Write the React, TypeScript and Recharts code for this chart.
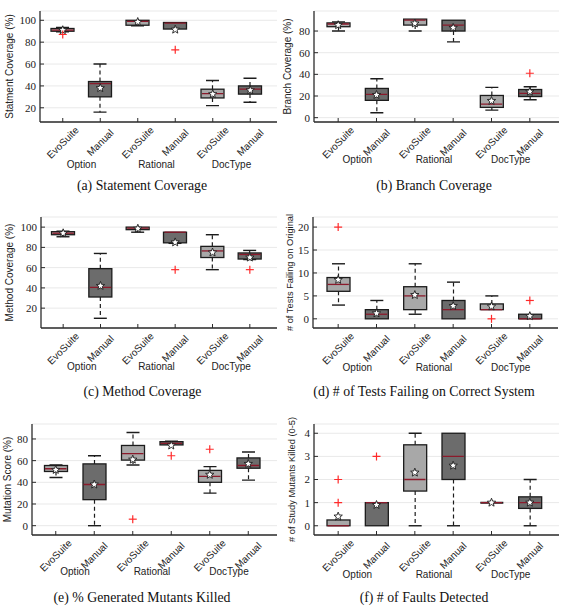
import React from "react";
import { ComposedChart, Bar, Scatter, XAxis, YAxis, CartesianGrid } from "recharts";

const GROUPS = ["Option", "Option", "Rational", "Rational", "DocType", "DocType"];
const METHODS = ["EvoSuite", "Manual", "EvoSuite", "Manual", "EvoSuite", "Manual"];

// (a) statement coverage
const STMT_MIN = [89.5, 16, 95, 92, 22, 25];
const STMT_Q1 = [90, 30, 95.5, 92, 29, 32.5];
const STMT_MED = [91, 42, 99, 97.5, 33, 37];
const STMT_Q3 = [92.5, 44, 100, 98, 37, 40];
const STMT_MAX = [93.5, 60, 100, 98, 45, 47];
const STMT_MEAN = [91, 38, 98.5, 91.5, 32.5, 36];
const STMT_OUT = [[87], [], [], [73], [], []];

// (b) branch coverage
const BR_MIN = [80, 4.5, 80, 70, 7, 16.5];
const BR_Q1 = [84, 16, 85.5, 80, 9.5, 19.5];
const BR_MED = [86.5, 21.5, 90, 85.5, 12.5, 22.5];
const BR_Q3 = [87.5, 27, 91, 90, 20.5, 26];
const BR_MAX = [88.5, 36, 91, 90, 28, 28.5];
const BR_MEAN = [85.5, 21, 87, 83, 15.5, 24];
const BR_OUT = [[], [], [], [], [], [41]];

// (c) method coverage
const MTH_MIN = [90.5, 10, 95, 84, 58, 68];
const MTH_Q1 = [92.5, 31, 97.5, 84.5, 70, 68.5];
const MTH_MED = [94, 40.5, 99, 95, 76.5, 73];
const MTH_Q3 = [95.5, 59, 100, 95, 81, 74.5];
const MTH_MAX = [96, 74, 100, 95, 92.5, 77];
const MTH_MEAN = [94, 42, 98.5, 85, 75, 70];
const MTH_OUT = [[], [], [], [58], [], [58]];

// (d) tests failing on correct system
const FAIL_MIN = [3, 0, 1, 0, 2, 0];
const FAIL_Q1 = [6, 0, 2, 0, 2, 0];
const FAIL_MED = [7.5, 1, 5, 2, 2, 0];
const FAIL_Q3 = [9, 2, 7, 4, 3.25, 1];
const FAIL_MAX = [12, 4, 12, 8, 5, 1];
const FAIL_MEAN = [8.5, 1.2, 5.2, 2.8, 2.7, 0.6];
const FAIL_OUT = [[20], [], [], [], [0], [4]];

// (e) generated mutants killed
const MUT_MIN = [44.5, 0, 56, 74.5, 30, 42];
const MUT_Q1 = [50, 24, 60.5, 74.5, 40, 53];
const MUT_MED = [52.5, 38, 66.5, 76, 45.5, 55.5];
const MUT_Q3 = [55.5, 57, 74, 77.5, 51, 62.5];
const MUT_MAX = [56, 64.5, 86, 78, 54.5, 68];
const MUT_MEAN = [51.5, 38, 61, 74, 47, 57];
const MUT_OUT = [[], [], [6], [64.5], [70.5], []];

// (f) faults detected
const FLT_MIN = [0, 0, 0, 0, 1, 0];
const FLT_Q1 = [0, 0, 1.5, 2, 1, 0.75];
const FLT_MED = [0, 1, 2, 3, 1, 1];
const FLT_Q3 = [0.25, 1, 3.5, 4, 1, 1.25];
const FLT_MAX = [0.25, 1, 4, 4, 1, 2];
const FLT_MEAN = [0.4, 0.9, 2.3, 2.6, 1, 1];
const FLT_OUT = [[2, 1], [3], [], [], [], []];

const SANS = "'Liberation Sans', Arial, Helvetica, sans-serif";
const SERIF = "'Liberation Serif', 'Times New Roman', serif";
const INK = "#1c1c1c";
const FRAME = "#2b2b2b";
const GRID = "#e9e9e9";
const EVO_FILL = "#a8a8a8";
const MAN_FILL = "#6c6c6c";
const MEDIAN = "#8b1a2b";
const OUTLIER = "#ff2a2a";
const BOX_W = 23;
const CAP = 6.5;

function buildRows(
  min: number[], q1: number[], med: number[], q3: number[], max: number[], mean: number[], out: number[][],
) {
  return METHODS.map((m, i) => ({
    key: `${GROUPS[i]} ${m}`,
    group: GROUPS[i],
    method: m,
    base: min[i],
    lowWhisker: q1[i] - min[i],
    box: q3[i] - q1[i],
    highWhisker: max[i] - q3[i],
    median: med[i],
    mean: mean[i],
    out1: out[i][0] ?? null,
    out2: out[i][1] ?? null,
  }));
}

// eslint-disable-next-line @typescript-eslint/no-explicit-any
function LowWhisker({ x, y, width, height }: any) {
  if (!(height > 0)) return <g />;
  const cx = x + width / 2;
  const yb = y + height;
  return (
    <g>
      <line x1={cx} x2={cx} y1={y} y2={yb} stroke={INK} strokeWidth={1.2} strokeDasharray="4 3" />
      <line x1={cx - CAP} x2={cx + CAP} y1={yb} y2={yb} stroke={INK} strokeWidth={1.4} />
    </g>
  );
}

// eslint-disable-next-line @typescript-eslint/no-explicit-any
function HighWhisker({ x, y, width, height }: any) {
  if (!(height > 0)) return <g />;
  const cx = x + width / 2;
  return (
    <g>
      <line x1={cx} x2={cx} y1={y + height} y2={y} stroke={INK} strokeWidth={1.2} strokeDasharray="4 3" />
      <line x1={cx - CAP} x2={cx + CAP} y1={y} y2={y} stroke={INK} strokeWidth={1.4} />
    </g>
  );
}

// eslint-disable-next-line @typescript-eslint/no-explicit-any
function BoxShape({ x, y, width, height, payload }: any) {
  const fill = payload.method === "EvoSuite" ? EVO_FILL : MAN_FILL;
  if (!(height > 0.8)) {
    return <line x1={x} x2={x + width} y1={y} y2={y} stroke={INK} strokeWidth={2} />;
  }
  return <rect x={x} y={y} width={width} height={height} fill={fill} stroke={INK} strokeWidth={1.3} />;
}

// eslint-disable-next-line @typescript-eslint/no-explicit-any
function MedianShape({ cx, cy }: any) {
  if (cx == null || cy == null || isNaN(cy)) return <g />;
  return <line x1={cx - BOX_W / 2 + 0.8} x2={cx + BOX_W / 2 - 0.8} y1={cy} y2={cy} stroke={MEDIAN} strokeWidth={1.3} />;
}

// eslint-disable-next-line @typescript-eslint/no-explicit-any
function MeanShape({ cx, cy }: any) {
  if (cx == null || cy == null || isNaN(cy)) return <g />;
  const pts: string[] = [];
  for (let k = 0; k < 10; k++) {
    const r = k % 2 === 0 ? 4.4 : 1.9;
    const a = -Math.PI / 2 + (k * Math.PI) / 5;
    pts.push(`${cx + r * Math.cos(a)},${cy + r * Math.sin(a)}`);
  }
  return <polygon points={pts.join(" ")} fill="#fff" stroke={INK} strokeWidth={0.9} />;
}

// eslint-disable-next-line @typescript-eslint/no-explicit-any
function OutlierShape({ cx, cy }: any) {
  if (cx == null || cy == null || isNaN(cy)) return <g />;
  return (
    <g stroke={OUTLIER} strokeWidth={1.2}>
      <line x1={cx - 4} x2={cx + 4} y1={cy} y2={cy} />
      <line x1={cx} x2={cx} y1={cy - 4} y2={cy + 4} />
    </g>
  );
}

// eslint-disable-next-line @typescript-eslint/no-explicit-any
function MethodTick({ x, y, payload }: any) {
  const name = String(payload.value).split(" ")[1];
  return (
    <text x={x} y={y} dy="0.35em" transform={`rotate(-45, ${x}, ${y})`} textAnchor="middle"
      fontSize={10} fontFamily={SANS} fill="#222">
      {name}
    </text>
  );
}

// eslint-disable-next-line @typescript-eslint/no-explicit-any
function GroupTick({ x, y, payload }: any) {
  return (
    <text x={x} y={y} textAnchor="middle" fontSize={10} fontFamily={SANS} fill="#222">
      {payload.value}
    </text>
  );
}

const EmptyTick = () => <g />;

interface Geo {
  left: number; top: number; width: number;
  plotL: number; plotR: number; plotT: number; plotB: number;
  padL: number; padR: number;
  labelX: number; labelSize: number; groupDy: number;
}

interface PanelProps {
  rows: ReturnType<typeof buildRows>;
  domain: [number, number];
  ticks: number[];
  yLabel: string;
  geo: Geo;
}

function BoxPanel({ rows, domain, ticks, yLabel, geo }: PanelProps) {
  const height = geo.plotB - geo.top + 52;
  const pad = { left: geo.padL, right: geo.padR };
  const frame = { stroke: FRAME, strokeWidth: 1.3 };
  return (
    <div style={{ position: "absolute", left: geo.left, top: geo.top }}>
      <ComposedChart
        width={geo.width}
        height={height}
        data={rows}
        barCategoryGap={0}
        margin={{ top: geo.plotT - geo.top, right: geo.width - (geo.plotR - geo.left), bottom: 0, left: 0 }}
      >
        <CartesianGrid vertical={false} stroke={GRID} />
        <XAxis dataKey="key" interval={0} padding={pad} height={34} tick={MethodTick}
          tickSize={-4} tickMargin={24.5} axisLine={frame} tickLine={{ stroke: FRAME }} />
        <XAxis xAxisId="grp" dataKey="group" allowDuplicatedCategory={false} interval={0} padding={pad}
          height={18} axisLine={false} tickLine={false} tickSize={0} tickMargin={geo.groupDy - 34} tick={GroupTick} />
        <XAxis xAxisId="top" orientation="top" dataKey="key" interval={0} padding={pad} height={0}
          tick={EmptyTick} tickSize={-4} axisLine={frame} tickLine={{ stroke: FRAME }} />
        <YAxis
          type="number"
          domain={domain}
          ticks={ticks}
          interval={0}
          allowDataOverflow
          width={geo.plotL - geo.left}
          tickSize={-4}
          tickMargin={8}
          axisLine={frame}
          tickLine={{ stroke: FRAME }}
          tick={{ fill: "#222", fontSize: 11, fontFamily: SERIF }}
          label={{
            value: yLabel, angle: -90, position: "insideLeft", offset: geo.labelX,
            style: { textAnchor: "middle", fontSize: geo.labelSize, fontFamily: SANS, fill: "#222" },
          }}
        />
        <YAxis yAxisId="right" orientation="right" type="number" domain={domain} ticks={ticks} interval={0}
          allowDataOverflow width={0} tick={EmptyTick} tickSize={-4} axisLine={frame} tickLine={{ stroke: FRAME }} />
        <Bar dataKey="base" stackId="s" barSize={BOX_W} fill="none" shape={EmptyTick} isAnimationActive={false} />
        <Bar dataKey="lowWhisker" stackId="s" barSize={BOX_W} shape={LowWhisker} isAnimationActive={false} />
        <Bar dataKey="box" stackId="s" barSize={BOX_W} shape={BoxShape} isAnimationActive={false} />
        <Bar dataKey="highWhisker" stackId="s" barSize={BOX_W} shape={HighWhisker} isAnimationActive={false} />
        <Scatter dataKey="median" shape={MedianShape} isAnimationActive={false} />
        <Scatter dataKey="mean" shape={MeanShape} isAnimationActive={false} />
        <Scatter dataKey="out1" shape={OutlierShape} isAnimationActive={false} />
        <Scatter dataKey="out2" shape={OutlierShape} isAnimationActive={false} />
      </ComposedChart>
    </div>
  );
}

const CAPTIONS = [
  "(a) Statement Coverage",
  "(b) Branch Coverage",
  "(c) Method Coverage",
  "(d) # of Tests Failing on Correct System",
  "(e) % Generated Mutants Killed",
  "(f) # of Faults Detected",
];
const CAPTION_POS = [[142, 189.5], [434, 189.5], [142.5, 395.5], [424, 395.5], [142, 602], [424, 602]];

export default function App() {
  return (
    <div style={{ position: "absolute", left: 0, top: 0, width: 565, height: 610, background: "#fff" }}>
      <BoxPanel
        rows={buildRows(STMT_MIN, STMT_Q1, STMT_MED, STMT_Q3, STMT_MAX, STMT_MEAN, STMT_OUT)}
        domain={[7, 108.5]} ticks={[20, 40, 60, 80, 100]} yLabel="Statment Coverage (%)"
        geo={{ left: 0, top: 0, width: 282, plotL: 40, plotR: 277, plotT: 11, plotB: 122, padL: 4, padR: 8, labelX: 9.5, labelSize: 10, groupDy: 46 }}
      />
      <BoxPanel
        rows={buildRows(BR_MIN, BR_Q1, BR_MED, BR_Q3, BR_MAX, BR_MEAN, BR_OUT)}
        domain={[-4, 98.5]} ticks={[0, 20, 40, 60, 80]} yLabel="Branch Coverage (%)"
        geo={{ left: 280, top: 0, width: 285, plotL: 314, plotR: 559, plotT: 11, plotB: 122, padL: 5, padR: 10, labelX: 7, labelSize: 10, groupDy: 41 }}
      />
      <BoxPanel
        rows={buildRows(MTH_MIN, MTH_Q1, MTH_MED, MTH_Q3, MTH_MAX, MTH_MEAN, MTH_OUT)}
        domain={[0.4, 110]} ticks={[20, 40, 60, 80, 100]} yLabel="Method Coverage (%)"
        geo={{ left: 0, top: 200, width: 282, plotL: 41, plotR: 277, plotT: 217, plotB: 328, padL: 3.5, padR: 8.5, labelX: 9.5, labelSize: 10, groupDy: 42 }}
      />
      <BoxPanel
        rows={buildRows(FAIL_MIN, FAIL_Q1, FAIL_MED, FAIL_Q3, FAIL_MAX, FAIL_MEAN, FAIL_OUT)}
        domain={[-2, 22.2]} ticks={[0, 5, 10, 15, 20]} yLabel="# of Tests Failing on Original"
        geo={{ left: 280, top: 200, width: 285, plotL: 313, plotR: 558, plotT: 217, plotB: 328, padL: 6, padR: 9, labelX: 9.5, labelSize: 9.3, groupDy: 43 }}
      />
      <BoxPanel
        rows={buildRows(MUT_MIN, MUT_Q1, MUT_MED, MUT_Q3, MUT_MAX, MUT_MEAN, MUT_OUT)}
        domain={[-8.6, 93.8]} ticks={[0, 20, 40, 60, 80]} yLabel="Mutation Score (%)"
        geo={{ left: 0, top: 405, width: 282, plotL: 32, plotR: 277, plotT: 424, plotB: 535, padL: 4.5, padR: 9.5, labelX: 7.5, labelSize: 10, groupDy: 40 }}
      />
      <BoxPanel
        rows={buildRows(FLT_MIN, FLT_Q1, FLT_MED, FLT_Q3, FLT_MAX, FLT_MEAN, FLT_OUT)}
        domain={[-0.4, 4.4]} ticks={[0, 1, 2, 3, 4]} yLabel="# of Study Mutants Killed (0-5)"
        geo={{ left: 280, top: 405, width: 285, plotL: 314, plotR: 559, plotT: 424, plotB: 535, padL: 5, padR: 10, labelX: 11.5, labelSize: 9.3, groupDy: 43 }}
      />
      <svg width={565} height={610} style={{ position: "absolute", left: 0, top: 0, pointerEvents: "none" }}>
        {CAPTIONS.map((c, i) => (
          <text key={c} x={CAPTION_POS[i][0]} y={CAPTION_POS[i][1]} textAnchor="middle"
            fontFamily={SERIF} fontSize={13.8} fill="#111">
            {c}
          </text>
        ))}
      </svg>
    </div>
  );
}
